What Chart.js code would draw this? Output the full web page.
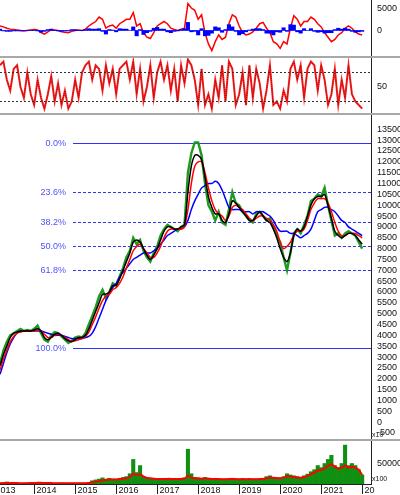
<!DOCTYPE html>
<html><head><meta charset="utf-8">
<script src="https://cdn.jsdelivr.net/npm/chart.js@4.4.1/dist/chart.umd.min.js"></script>
<style>
body{margin:0;background:#fff;width:400px;height:495px;position:relative;overflow:hidden;font-family:"Liberation Sans",Arial,sans-serif}
.p{position:absolute;left:0;width:400px}
.sep{position:absolute;left:0;width:400px;height:2px;background:#a8a8a8}
</style></head><body>
<div class="p" style="top:0;height:56px"><canvas id="c1"></canvas></div>
<div class="sep" style="top:56px"></div>
<div class="p" style="top:58px;height:55px"><canvas id="c2"></canvas></div>
<div class="sep" style="top:113px"></div>
<div class="p" style="top:115px;height:324px"><canvas id="c3"></canvas></div>
<div class="sep" style="top:439px"></div>
<div class="p" style="top:441px;height:54px"><canvas id="c4"></canvas></div>
<script>
const startYear = 2013.17;
const yearTicks = ["2013","2014","2015","2016","2017","2018","2019","2020","2021","20"];
const yearPos = [2013,2014,2015,2016,2017,2018,2019,2020,2021,2022];
const price = [2700,3300,3700,4000,4100,4200,4300,4200,4250,4200,
4300,4450,4100,3800,3700,4000,4150,4100,3950,3800,3650,3750,
3900,3950,3900,4100,4500,4900,5300,5800,6100,5700,6000,6400,
6300,6700,7100,7600,7900,8500,8200,8400,7900,7600,7400,7800,
8100,8600,8900,9100,9000,8900,8800,9000,9100,11500,12400,12900,
12900,12300,11000,10000,9700,9300,9700,9200,9100,9800,10600,10100,
10000,9700,9500,9300,9200,9600,9700,9500,9300,9400,9000,8600,
8300,7600,7000,7800,8700,8900,8700,9100,9500,10200,10300,10500,
10400,10800,10000,9300,8600,8700,8500,8700,8800,8700,8600,8300,
8000];
const maShort = [2600,3100,3500,3900,4100,4150,4200,4200,4200,4200,
4250,4300,4200,3900,3800,3900,4050,4100,4000,3850,3750,3700,
3800,3900,3900,4000,4300,4700,5100,5500,5900,5900,6000,6300,
6300,6600,7000,7400,7800,8300,8400,8300,8000,7700,7500,7700,
8000,8400,8800,9000,9000,8900,8900,9000,9100,10600,11800,12300,
12300,12100,11300,10400,9900,9600,9600,9300,9200,9600,10200,10100,
9900,9700,9500,9300,9300,9500,9700,9500,9300,9200,8900,8500,
8000,7600,7400,7800,8600,8900,8800,9000,9500,10000,10300,10400,
10400,10500,10000,9400,8800,8600,8500,8600,8700,8700,8600,8400,
8200];
const maMid = [2400,2900,3300,3700,3950,4100,4150,4200,4200,4200,
4200,4250,4200,4050,3900,3900,4000,4050,4000,3900,3800,3750,
3750,3800,3850,3950,4150,4500,4850,5250,5600,5800,5900,6100,
6200,6400,6700,7100,7500,7900,8100,8200,8000,7800,7600,7600,
7800,8100,8500,8800,8900,8900,8900,8900,9000,9800,11000,11800,
12000,12000,11500,10800,10200,9800,9600,9500,9300,9500,9900,10000,
9900,9800,9600,9400,9300,9400,9500,9500,9400,9300,9100,8800,
8300,8000,8100,8300,8600,8800,8800,8900,9300,9800,10100,10300,
10300,10300,10100,9700,9200,8800,8600,8600,8700,8700,8700,8600,
8500];
const maLong = [2200,2700,3200,3600,3900,4100,4200,4200,4200,4200,
4200,4200,4200,4150,4100,4050,4000,4000,4000,3950,3900,3850,
3850,3850,3850,3900,3950,4100,4400,4800,5200,5600,5900,6200,
6400,6700,6900,7100,7300,7500,7600,7700,7800,7800,7800,7900,
8000,8200,8400,8600,8700,8800,8900,8900,9000,9300,9800,10200,
10500,10800,10900,11000,11000,11100,11000,10700,10300,9900,9800,9800,
9800,9700,9700,9700,9600,9700,9700,9700,9600,9500,9300,9000,
8800,8800,8800,8700,8700,8600,8500,8600,8700,8900,9300,9700,
9800,9900,9900,9800,9700,9500,9300,9200,9000,8900,8800,8700,
8600];
const macd = [1000,800,500,300,200,100,0,-100,0,100,
200,100,-500,-800,-300,200,100,0,-300,-400,-500,-200,
0,100,0,300,1000,1500,2000,3000,2500,500,1000,1200,
500,1500,2000,2500,2500,4000,1000,1500,-500,-1500,-1800,-500,
1000,1500,2000,1500,500,200,0,300,500,6000,5000,4500,
2500,3500,-500,-3000,-4500,-2500,-1000,-2000,-1500,1500,3500,3000,
1000,-500,-1000,-800,-300,500,1500,1800,500,-500,-2500,-3000,
-4000,-2500,-3000,500,3300,2500,1000,2000,2000,3000,2500,1500,
800,-500,-1500,-2500,-2000,-1000,-500,500,1000,500,-300,-800,
-1000];
const macdHist = [300,-100,-200,-200,-100,-100,-100,-50,50,50,
50,-100,-400,-200,200,300,-50,-100,-200,-100,-100,200,
200,50,-50,200,400,300,300,400,-200,-800,200,100,
-300,400,300,300,0,800,-1200,200,-900,-500,-200,500,
700,300,300,-300,-500,-200,-100,200,400,1800,-300,-200,
-1000,400,-1200,-1100,-600,800,600,-400,200,1300,800,-200,
-1000,-700,-300,100,300,400,400,200,-600,-600,-1000,-300,
-400,600,-200,1300,1200,-300,-600,400,0,400,-200,-400,
-300,-600,-500,-500,200,500,300,500,300,-200,-400,-300,
-200];
const rsi = [80,85,60,45,75,80,50,35,70,40,
25,60,35,20,40,65,30,55,25,45,20,30,
60,35,70,80,85,60,80,75,45,80,55,75,
40,75,80,85,60,85,40,75,30,50,80,35,
70,85,60,80,45,75,30,80,55,88,80,60,
25,75,25,40,20,60,35,80,30,85,75,25,
40,70,25,80,35,75,55,20,45,80,25,30,
20,45,30,75,85,60,80,35,75,85,80,45,
80,60,25,40,75,25,60,35,80,40,30,25,
20];
const volume = [3000,3500,5000,3000,2500,2500,2000,2000,2500,3000,
3000,4000,3000,2500,2500,2000,2000,2000,2500,2000,2000,2000,
2000,2000,2000,2500,3000,8000,10000,12000,15000,12000,14000,12000,
12000,14000,16000,18000,25000,60000,28000,45000,18000,15000,14000,13000,
12000,13000,12000,14000,13000,12000,12000,13000,15000,85000,25000,16000,
15000,14000,16000,14000,13000,12000,13000,12000,12000,13000,14000,12000,
12000,13000,12000,13000,12000,12000,13000,14000,18000,20000,16000,15000,
15000,18000,25000,22000,20000,18000,16000,20000,24000,30000,35000,45000,
40000,50000,60000,70000,45000,40000,50000,95000,45000,50000,45000,35000,
22000];
const volMA = [1500,1800,2200,2500,2300,2200,2000,2000,2000,2200,
2400,2800,2800,2600,2400,2200,2000,2000,2100,2000,2000,2000,
2000,2000,2000,2100,2400,4000,5500,7000,9000,10000,11000,11000,
11000,12000,13000,14000,17000,25000,22000,24000,18000,15000,14000,13000,
12000,12500,12000,12500,12500,12000,12000,12500,13000,20000,16000,14000,
13500,13000,13500,13000,12500,12000,12000,11500,11500,12000,12500,12000,
11500,12000,11500,12000,11500,11500,12000,12500,14000,16000,15000,14500,
14000,15500,19000,18000,17000,16000,15000,17000,20000,24000,28000,33000,
34000,38000,44000,48000,42000,38000,40000,45000,40000,42000,40000,35000,
22000];
const fibLabels = ["0.0%","23.6%","38.2%","50.0%","61.8%","100.0%"];
const fibValues = [12860,10627,9246,8130,7014,3400];
const fibStart = 2014.95;

const pts = a => a.map((v,i)=>({x:startYear+i/12,y:v}));
const xMin = 2013.17, xMax = 2013.17+371/41;
const F = {family:"Liberation Sans, Arial, sans-serif", size:9};
Chart.defaults.animation=false;
Chart.defaults.font = F;
function xs(){return {type:'linear',min:xMin,max:xMax,display:false,offset:false};}
function ys(min,max,ticks,shown){return {type:'linear',position:'right',min,max,
  afterFit:s=>{s.width=29;s.paddingTop=0;s.paddingBottom=0;},
  afterBuildTicks:s=>{s.ticks=ticks.map(v=>({value:v}));},
  grid:{display:false,drawTicks:true,tickLength:4,tickColor:'#222'},
  border:{color:'#222'},
  ticks:{color:'#111',font:F,padding:2,autoSkip:false,maxRotation:0,
    callback:v=>(shown===undefined||shown.includes(v))?String(v):''}};}
const base={responsive:true,maintainAspectRatio:false,layout:{padding:0},
  plugins:{legend:{display:false},tooltip:{enabled:false}},
  elements:{point:{radius:0}}};

new Chart(c1,{type:'bar',data:{datasets:[
 {type:'line',data:pts(macd),borderColor:'#ff0000',borderWidth:1.5,tension:0,order:2},
 {type:'bar',data:pts(macdHist),backgroundColor:'#0000ff',barPercentage:1,categoryPercentage:1,order:1}
]},options:{...base,scales:{x:xs(),y:ys(-5700,6800,[-5000,0,5000],[0,5000])}}});

const rsiLines={id:'rl',afterDatasetsDraw(c){const {ctx,chartArea:a,scales:{y}}=c;ctx.save();ctx.setLineDash([2,2]);ctx.strokeStyle='#333';ctx.lineWidth=1;
 [70,30].forEach(v=>{const py=Math.round(y.getPixelForValue(v))+0.5;ctx.beginPath();ctx.moveTo(a.left,py);ctx.lineTo(a.right,py);ctx.stroke();});ctx.restore();}};
new Chart(c2,{type:'line',data:{datasets:[
 {data:pts(rsi),borderColor:'#ff2020',borderWidth:2,tension:0,order:2},
 {data:pts(rsi),borderColor:'#600000',borderWidth:0.6,borderDash:[1,1],tension:0,order:1}
]},options:{...base,scales:{x:xs(),y:ys(14,90,[88,50,17],[50])}},plugins:[rsiLines]});

const fib={id:'fib',beforeDatasetsDraw(c){const {ctx,chartArea:a,scales:{x,y}}=c;ctx.save();ctx.font='9px Liberation Sans, Arial';ctx.fillStyle='#5050ff';ctx.textAlign='right';ctx.textBaseline='middle';
 const x0=x.getPixelForValue(fibStart);
 fibValues.forEach((v,i)=>{const py=Math.round(y.getPixelForValue(v))+0.5;
  const solid=i===0||i===fibValues.length-1;
  ctx.strokeStyle='#3030ff';ctx.lineWidth=solid?1.2:1;ctx.setLineDash(solid?[]:[3,2]);
  ctx.beginPath();ctx.moveTo(x0,py);ctx.lineTo(a.right,py);ctx.stroke();
  ctx.fillText(fibLabels[i],x0-7,py);});
 ctx.restore();},
 afterDraw(c){const {ctx,chartArea:a}=c;ctx.save();ctx.font='7px Liberation Sans, Arial';ctx.fillStyle='#222';ctx.fillText('x10',a.right+1,a.bottom-2);ctx.restore();}};
new Chart(c3,{type:'line',data:{datasets:[
 {data:pts(price),borderColor:'#1e9a1e',borderWidth:2.4,tension:0,order:4},
 {data:pts(maLong),borderColor:'#0000ff',borderWidth:1.5,tension:0.3,order:3},
 {data:pts(maMid),borderColor:'#ff0000',borderWidth:1.5,tension:0.3,order:2},
 {data:pts(maShort),borderColor:'#000000',borderWidth:1.5,tension:0.3,order:1}
]},options:{...base,scales:{x:xs(),y:ys(-780,14160,Array.from({length:29},(_,i)=>-500+i*500))}},plugins:[fib]});

const years={id:'yr',afterDraw(c){const {ctx,chartArea:a,scales:{x}}=c;ctx.save();ctx.font='9px Liberation Sans, Arial';ctx.fillStyle='#111';ctx.strokeStyle='#222';ctx.textBaseline='top';
 ctx.beginPath();ctx.moveTo(0,a.bottom+0.5);ctx.lineTo(a.right,a.bottom+0.5);ctx.stroke();
 yearPos.forEach((yv,i)=>{const px=Math.round(x.getPixelForValue(yv))+0.5;
  if(px>0){ctx.beginPath();ctx.moveTo(px,a.bottom);ctx.lineTo(px,a.bottom+10);ctx.stroke();}
  ctx.fillText(yearTicks[i],px+2,a.bottom+2);});
 ctx.font='7px Liberation Sans, Arial';ctx.fillText('x100',a.right+1,a.bottom-8);ctx.restore();}};
new Chart(c4,{type:'bar',data:{datasets:[
 {type:'line',data:pts(volMA),borderColor:'#ff0000',borderWidth:2,tension:0.2,order:1},
 {type:'bar',data:pts(volume),backgroundColor:'#109010',barPercentage:1,categoryPercentage:1,order:2}
]},options:{...base,layout:{padding:{bottom:11}},scales:{x:xs(),y:ys(0,105000,[100000,50000],[50000])}},plugins:[years]});
</script></body></html>
